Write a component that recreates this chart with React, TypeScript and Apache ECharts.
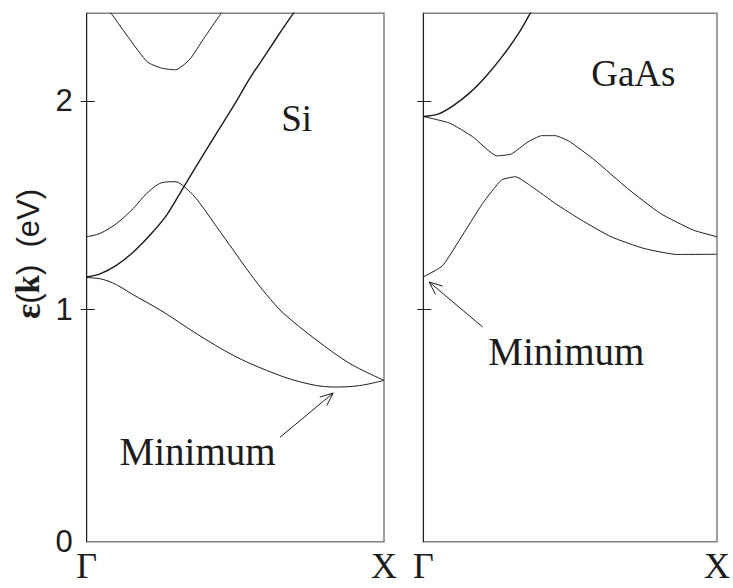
import React, { useEffect, useRef } from "react";
import * as echarts from "echarts";

// ---- data (k from Γ = 0 to X = 1, energy in eV) ----
const kLabels = ["Γ", "X"];
const yTickValues = [1, 2];
const yTickLabels = ["0", "1", "2"];
const Y_MIN = -0.115;
const Y_MAX = 2.42;

const siBand1 = [[0.05, 2.48], [0.082, 2.42], [0.202, 2.189], [0.252, 2.157], [0.299, 2.149], [0.347, 2.2], [0.391, 2.293], [0.452, 2.42], [0.47, 2.46]];
const siBand2 = [[0, 1.155], [0.045, 1.17], [0.101, 1.212], [0.157, 1.275], [0.213, 1.356], [0.269, 1.452], [0.32, 1.572], [0.381, 1.716], [0.437, 1.845], [0.493, 1.973], [0.549, 2.109], [0.605, 2.229], [0.661, 2.35], [0.695, 2.42], [0.72, 2.47]];
const siBand3 = [[0, 1.348], [0.045, 1.364], [0.101, 1.412], [0.157, 1.484], [0.202, 1.556], [0.252, 1.607], [0.297, 1.612], [0.347, 1.564], [0.381, 1.508], [0.437, 1.396], [0.493, 1.284], [0.549, 1.172], [0.605, 1.07], [0.661, 0.982], [0.774, 0.851], [0.886, 0.739], [1, 0.659]];
const siBand4 = [[0, 1.152], [0.05, 1.145], [0.1, 1.118], [0.15, 1.075], [0.2, 1.035], [0.26, 0.985], [0.375, 0.878], [0.493, 0.779], [0.605, 0.707], [0.717, 0.652], [0.829, 0.627], [0.918, 0.634], [1, 0.659]];

const gaBand1 = [[0, 1.925], [0.05, 1.936], [0.101, 1.976], [0.157, 2.037], [0.213, 2.117], [0.269, 2.213], [0.325, 2.325], [0.364, 2.42], [0.385, 2.47]];
const gaBand2 = [[0, 1.925], [0.09, 1.893], [0.168, 1.828], [0.25, 1.736], [0.3, 1.745], [0.353, 1.8], [0.403, 1.833], [0.449, 1.833], [0.499, 1.804], [0.583, 1.716], [0.695, 1.58], [0.807, 1.46], [0.919, 1.38], [1, 1.348]];
const gaBand3 = [[0, 1.155], [0.065, 1.208], [0.123, 1.332], [0.202, 1.508], [0.266, 1.62], [0.314, 1.636], [0.37, 1.588], [0.449, 1.508], [0.538, 1.428], [0.639, 1.348], [0.751, 1.292], [0.863, 1.263], [1, 1.264]];

// annotations (data coordinates)
const siArrow = { tail: [0.65, 0.386], head: [0.829, 0.598] };
const gaArrow = { tail: [0.202, 0.915], head: [0.02, 1.131] };
const siMinText = [0.373, 0.317];
const gaMinText = [0.487, 0.798];
const siName = [0.706, 1.913];
const gaName = [0.715, 2.13];

const SERIF = "Liberation Serif";
const SANS = "Liberation Sans";
const INK = "#1c1c1c";

function xAxisFor(grid: number) {
  return {
    type: "value",
    gridIndex: grid,
    min: 0,
    max: 1,
    axisLine: { show: false },
    axisTick: { show: false },
    splitLine: { show: false },
    axisLabel: {
      show: true,
      customValues: [0, 1],
      formatter: (v: number) => (v < 0.5 ? kLabels[0] : kLabels[1]),
      fontFamily: SERIF,
      fontSize: 36,
      color: INK,
      margin: 6,
    },
  };
}

function yAxisMain(grid: number, withLabels: boolean) {
  return {
    type: "value",
    gridIndex: grid,
    min: Y_MIN,
    max: Y_MAX,
    position: "left",
    axisLine: { show: true, lineStyle: { color: "#222", width: 1 } },
    axisTick: { show: true, inside: true, length: 8, customValues: yTickValues, lineStyle: { color: "#222", width: 1 } },
    splitLine: { show: false },
    axisLabel: {
      show: withLabels,
      customValues: [Y_MIN, ...yTickValues],
      formatter: (v: number) => (v < 0.5 ? yTickLabels[0] : yTickLabels[Math.round(v)]),
      fontFamily: SANS,
      fontSize: 31,
      color: INK,
      margin: 14,
    },
  };
}

function yAxisOuterTicks(grid: number) {
  return {
    type: "value",
    gridIndex: grid,
    min: Y_MIN,
    max: Y_MAX,
    position: "left",
    axisLine: { show: false },
    axisTick: { show: true, inside: false, length: 6, customValues: yTickValues, lineStyle: { color: "#222", width: 1 } },
    axisLabel: { show: false },
    splitLine: { show: false },
  };
}

function band(data: number[][], grid: number, width = 1, smooth: number | boolean = false) {
  return {
    type: "line",
    xAxisIndex: grid,
    yAxisIndex: grid,
    data,
    symbol: "none",
    showSymbol: false,
    smooth,
    clip: true,
    lineStyle: { color: INK, width },
    silent: true,
  };
}

export default function App() {
  const ref = useRef<HTMLDivElement>(null);
  useEffect(() => {
    if (!ref.current) return;
    const chart = echarts.init(ref.current, undefined, { renderer: "svg" });
    const gridBase = { top: 13.3, bottom: 46.3, show: true, borderColor: "#808080", borderWidth: 1.5, backgroundColor: "transparent", containLabel: false };
    chart.setOption({
      animation: false,
      backgroundColor: "#ffffff",
      grid: [
        { ...gridBase, left: 86.7, right: 349 },
        { ...gridBase, left: 423.3, right: 12.3 },
      ],
      xAxis: [xAxisFor(0), xAxisFor(1)],
      yAxis: [yAxisMain(0, true), yAxisMain(1, false), yAxisOuterTicks(0), yAxisOuterTicks(1)],
      series: [
        band(siBand1, 0, 1, 0.2),
        band(siBand2, 0, 1.4, 0.3),
        band(siBand3, 0, 1, 0.3),
        band(siBand4, 0, 1, 0.35),
        band(gaBand1, 1, 1.4, 0.3),
        band(gaBand2, 1, 1, 0.15),
        band(gaBand3, 1, 1, 0.15),
      ],
    });

    const px = (grid: number, p: number[]) => chart.convertToPixel({ gridIndex: grid }, p) as number[];
    const arrow = (grid: number, a: { tail: number[]; head: number[] }) => {
      const t = px(grid, a.tail);
      const h = px(grid, a.head);
      const ang = Math.atan2(h[1] - t[1], h[0] - t[0]);
      const L = 14;
      const s = 0.4;
      const w1 = [h[0] - L * Math.cos(ang - s), h[1] - L * Math.sin(ang - s)];
      const w2 = [h[0] - L * Math.cos(ang + s), h[1] - L * Math.sin(ang + s)];
      return [
        { type: "line", shape: { x1: t[0], y1: t[1], x2: h[0], y2: h[1] }, style: { stroke: INK, lineWidth: 1 } },
        { type: "polyline", shape: { points: [w1, h, w2] }, style: { stroke: INK, lineWidth: 1, fill: null } },
      ];
    };
    const label = (grid: number, p: number[], text: string, size: number) => {
      const q = px(grid, p);
      return {
        type: "text",
        x: q[0],
        y: q[1],
        style: { text, fontFamily: SERIF, fontSize: size, fill: INK, align: "center", verticalAlign: "middle" },
      };
    };

    chart.setOption({
      graphic: [
        ...arrow(0, siArrow),
        ...arrow(1, gaArrow),
        label(0, siMinText, "Minimum", 39),
        label(1, gaMinText, "Minimum", 39),
        label(0, siName, "Si", 37),
        label(1, gaName, "GaAs", 37),
        {
          type: "text",
          x: 28,
          y: 254,
          rotation: Math.PI / 2,
          style: {
            text: "{e|ε}{p|(}{k|k}{p|)  (eV)}",
            align: "center",
            verticalAlign: "middle",
            fill: INK,
            rich: {
              e: { fontFamily: SERIF, fontWeight: "bold", fontSize: 36, fill: INK },
              p: { fontFamily: SANS, fontSize: 31, fill: INK },
              k: { fontFamily: SERIF, fontWeight: "bold", fontSize: 33, fill: INK },
            },
          },
        },
      ],
    });

    return () => chart.dispose();
  }, []);
  return (
    <div
      ref={ref}
      style={{ position: "fixed", left: 0, top: 0, width: 733, height: 588, background: "#fff" }}
    />
  );
}
